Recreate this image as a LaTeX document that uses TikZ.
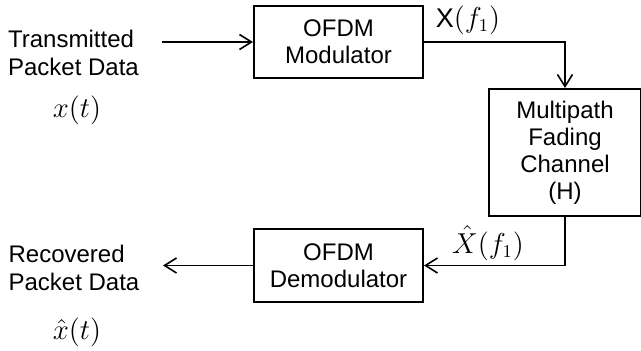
\documentclass[tikz,border=0pt]{standalone}
\usepackage{amsmath}
\usepackage{fontspec}
\setmainfont{Liberation Sans}
\usepackage{tikz}
\usetikzlibrary{positioning,arrows.meta}

\begin{document}
\begin{tikzpicture}[x=0.5pt,y=-0.5pt]
        \tikzstyle{every node}=[font=\fontsize{12}{13.5}\selectfont, align=center]
        \tikzstyle{block}=[draw, line width=1pt, inner sep=0pt]
        \tikzstyle{sig}=[font=\fontsize{13.5}{15}\selectfont]
        \tikzset{>={Straight Barb[length=6pt,width=7.5pt]}}

        \useasboundingbox (0,0) rectangle (641,351);

        % blocks
        \node (mod)   [block, minimum width=84.5pt, minimum height=36pt] at (338.5,42) {OFDM\\Modulator};
        \node (chan)  [block, minimum width=76pt, minimum height=63.5pt] at (565,152.5) {Multipath\\Fading\\Channel\\(H)};
        \node (demod) [block, minimum width=84.5pt, minimum height=36.5pt] at (338.5,265.5) {OFDM\\Demodulator};

        % source and sink
        \node (tx)  [align=left, font=\fontsize{12}{14}\selectfont] at (73.5,53) {Transmitted\\Packet Data};
        \node (xt)  [sig] at (77,110) {$x(t)$};
        \node (rx)  [align=left, font=\fontsize{12}{14}\selectfont] at (74,268) {Recovered\\Packet Data};
        \node (xht) [sig] at (77,332) {$\hat{x}(t)$};

        \coordinate (in)  at (162,42);
        \coordinate (out) at (163,265.5);

        % signal labels
        \node (Xf)  [sig] at (468,20) {X$(f_1)$};
        \node (Xhf) [sig] at (488,243) {$\hat{X}(f_1)$};

        \draw[->, line width=0.8pt] (in) -- (mod);
        \draw[->, line width=0.8pt] (mod.east) -| (chan.north);
        \draw[->, line width=0.8pt] (chan.south) |- (demod.east);
        \draw[->, line width=0.8pt] (demod.west) -- (out);

    \end{tikzpicture}
\end{document}
